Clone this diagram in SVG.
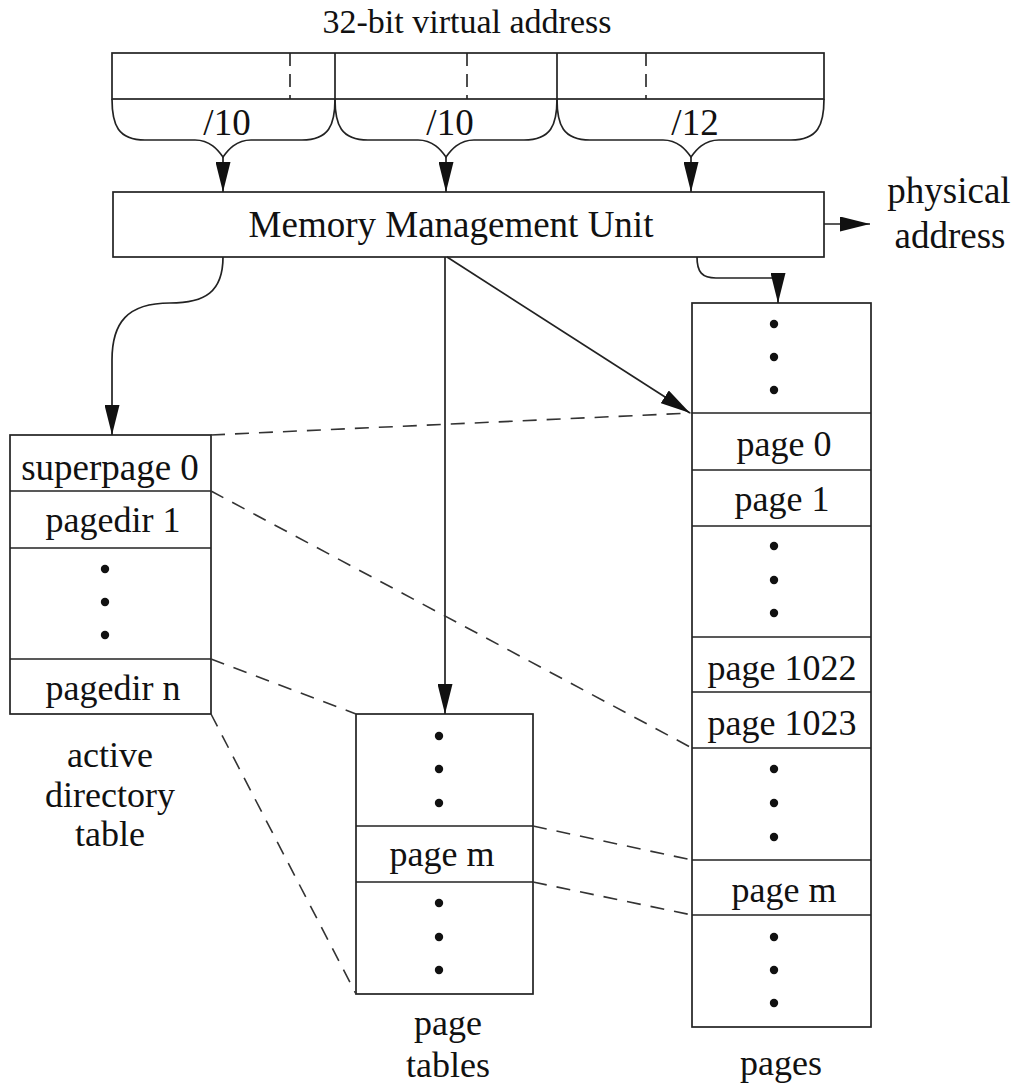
<svg xmlns="http://www.w3.org/2000/svg" width="1018" height="1090" viewBox="0 0 1018 1090">
<style>
.box{fill:none;stroke:#222;stroke-width:1.7}
.ln{fill:none;stroke:#222;stroke-width:1.7}
.dash{fill:none;stroke:#333;stroke-width:1.6;stroke-dasharray:14 10}
.vd{fill:none;stroke:#222;stroke-width:1.6;stroke-dasharray:13 8}
.t{font-family:"Liberation Serif","Times New Roman",serif;font-size:36px;fill:#111;text-anchor:middle}
.dot{fill:#111}
</style>
<defs>
<marker id="ah" markerUnits="userSpaceOnUse" markerWidth="30" markerHeight="15" refX="30" refY="7.5" orient="auto">
<path d="M0,0 L30,7.5 L0,15 z" fill="#111"/>
</marker>
</defs>
<text class="t" x="467" y="33" style="font-size:34px">32-bit virtual address</text>
<g id="vaddr">
<rect class="box" x="112" y="53" width="712" height="46"/>
<line class="ln" x1="335" y1="53" x2="335" y2="99"/>
<line class="ln" x1="557" y1="53" x2="557" y2="99"/>
<line class="vd" x1="290" y1="53" x2="290" y2="99"/>
<line class="vd" x1="467" y1="53" x2="467" y2="99"/>
<line class="vd" x1="646" y1="53" x2="646" y2="99"/>
</g>
<g id="braces">
<path class="ln" d="M112,99 C112,125 118,140 145,140 L195,140 C210,140 218,150 223,157 C228,150 236,140 251,140 L302,140 C329,140 335,125 335,99"/>
<path class="ln" d="M335,99 C335,125 341,140 368,140 L418,140 C433,140 441,150 446,157 C451,150 459,140 474,140 L524,140 C551,140 557,125 557,99"/>
<path class="ln" d="M557,99 C557,125 563,140 590,140 L663,140 C678,140 686,150 691,157 C696,150 704,140 719,140 L791,140 C818,140 824,125 824,99"/>
<text class="t" x="227" y="135" style="font-size:37px">/10</text>
<text class="t" x="450" y="135" style="font-size:37px">/10</text>
<text class="t" x="695" y="135" style="font-size:37px">/12</text>
</g>
<g id="mmu">
<rect class="box" x="113" y="192" width="711" height="65"/>
<text class="t" x="451" y="237" style="font-size:37px">Memory Management Unit</text>
</g>
<g id="phys">
<text class="t" x="949" y="203" style="font-size:37px">physical</text>
<text class="t" x="950" y="248" style="font-size:37px">address</text>
</g>
<g id="adt">
<rect class="box" x="10" y="435" width="201" height="279"/>
<line class="ln" x1="10" y1="491" x2="211" y2="491"/>
<line class="ln" x1="10" y1="548" x2="211" y2="548"/>
<line class="ln" x1="10" y1="659" x2="211" y2="659"/>
<text class="t" x="110" y="480" style="font-size:37px">superpage 0</text>
<text class="t" x="113" y="532">pagedir 1</text>
<circle class="dot" cx="105" cy="569" r="4.2"/>
<circle class="dot" cx="105" cy="602" r="4.2"/>
<circle class="dot" cx="105" cy="635" r="4.2"/>
<text class="t" x="113" y="700">pagedir n</text>
<text class="t" x="110" y="767">active</text>
<text class="t" x="110" y="807">directory</text>
<text class="t" x="110" y="846">table</text>
</g>
<g id="ptables">
<rect class="box" x="356" y="714" width="177" height="280"/>
<line class="ln" x1="356" y1="826" x2="533" y2="826"/>
<line class="ln" x1="356" y1="882" x2="533" y2="882"/>
<circle class="dot" cx="439" cy="736" r="4.2"/>
<circle class="dot" cx="439" cy="769" r="4.2"/>
<circle class="dot" cx="439" cy="803" r="4.2"/>
<text class="t" x="442" y="866">page m</text>
<circle class="dot" cx="439" cy="903" r="4.2"/>
<circle class="dot" cx="439" cy="937" r="4.2"/>
<circle class="dot" cx="439" cy="970" r="4.2"/>
<text class="t" x="448" y="1035">page</text>
<text class="t" x="448" y="1077">tables</text>
</g>
<g id="pages">
<rect class="box" x="692" y="303" width="179" height="724"/>
<line class="ln" x1="692" y1="413" x2="871" y2="413"/>
<line class="ln" x1="692" y1="470" x2="871" y2="470"/>
<line class="ln" x1="692" y1="526" x2="871" y2="526"/>
<line class="ln" x1="692" y1="637" x2="871" y2="637"/>
<line class="ln" x1="692" y1="692" x2="871" y2="692"/>
<line class="ln" x1="692" y1="748" x2="871" y2="748"/>
<line class="ln" x1="692" y1="860" x2="871" y2="860"/>
<line class="ln" x1="692" y1="915" x2="871" y2="915"/>
<circle class="dot" cx="774" cy="324" r="4.2"/>
<circle class="dot" cx="774" cy="357" r="4.2"/>
<circle class="dot" cx="774" cy="390" r="4.2"/>
<text class="t" x="784" y="456">page 0</text>
<text class="t" x="782" y="511">page 1</text>
<circle class="dot" cx="774" cy="546" r="4.2"/>
<circle class="dot" cx="774" cy="580" r="4.2"/>
<circle class="dot" cx="774" cy="613" r="4.2"/>
<text class="t" x="782" y="680">page 1022</text>
<text class="t" x="782" y="735">page 1023</text>
<circle class="dot" cx="774" cy="769" r="4.2"/>
<circle class="dot" cx="774" cy="803" r="4.2"/>
<circle class="dot" cx="774" cy="837" r="4.2"/>
<text class="t" x="784" y="902">page m</text>
<circle class="dot" cx="774" cy="937" r="4.2"/>
<circle class="dot" cx="774" cy="970" r="4.2"/>
<circle class="dot" cx="774" cy="1003" r="4.2"/>
<text class="t" x="781" y="1075">pages</text>
</g>
<g id="connectors">
<line class="ln" x1="223" y1="157" x2="223" y2="192" marker-end="url(#ah)"/>
<line class="ln" x1="446" y1="157" x2="446" y2="192" marker-end="url(#ah)"/>
<line class="ln" x1="691" y1="157" x2="691" y2="192" marker-end="url(#ah)"/>
<line class="ln" x1="824" y1="224" x2="870" y2="224" marker-end="url(#ah)"/>
<path class="ln" d="M223,257 C223,292 205,303 170,303 C127,303 112,323 112,360 L112,435" marker-end="url(#ah)"/>
<line class="ln" x1="445" y1="257" x2="445" y2="714" marker-end="url(#ah)"/>
<line class="ln" x1="447" y1="257" x2="690" y2="413" marker-end="url(#ah)"/>
<path class="ln" d="M697,257 C697,272 702,278 716,278 L778,278 L778,303" marker-end="url(#ah)"/>
<line class="dash" x1="211" y1="435" x2="692" y2="413"/>
<line class="dash" x1="211" y1="491" x2="692" y2="748"/>
<line class="dash" x1="211" y1="659" x2="356" y2="714"/>
<line class="dash" x1="211" y1="714" x2="356" y2="994"/>
<line class="dash" x1="533" y1="826" x2="692" y2="860"/>
<line class="dash" x1="533" y1="882" x2="692" y2="915"/>
</g>
</svg>
